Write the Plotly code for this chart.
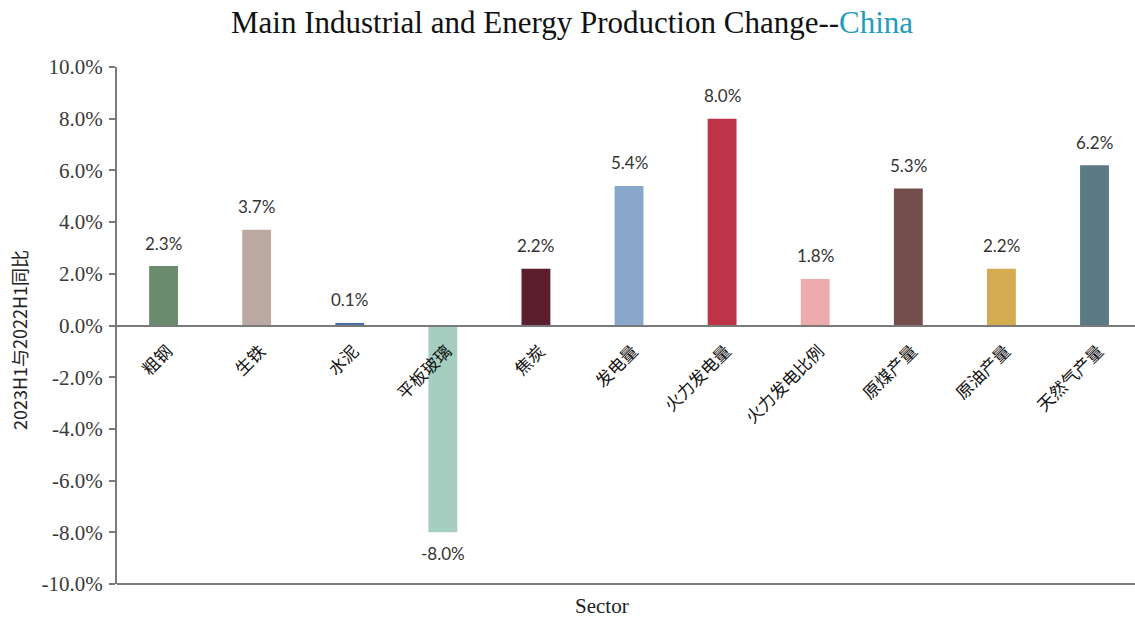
import plotly.graph_objects as go

# Sector year-over-year change, 2023H1 vs 2022H1 (percent)
sectors = ["粗钢", "生铁", "水泥", "平板玻璃", "焦炭", "发电量",
           "火力发电量", "火力发电比例", "原煤产量", "原油产量", "天然气产量"]
change_pct = [2.3, 3.7, 0.1, -8.0, 2.2, 5.4, 8.0, 1.8, 5.3, 2.2, 6.2]
bar_colors = ["#6b8b6f", "#bba9a1", "#4c6fa8", "#a6cec0", "#5a1e2c", "#88a7ca",
              "#bd3449", "#eeabab", "#744e4d", "#d5ab52", "#5c7a84"]
y_ticks = [-10, -8, -6, -4, -2, 0, 2, 4, 6, 8, 10]

W, H = 1135, 620
M_L, M_R, M_T, M_B = 117, 0, 67, 36
plot_w = W - M_L - M_R
plot_h = H - M_T - M_B

values = [v / 100 for v in change_pct]

fig = go.Figure(go.Bar(
    x=sectors,
    y=values,
    width=0.31,
    marker=dict(color=bar_colors, line=dict(width=0)),
    showlegend=False,
    hovertemplate="%{x}: %{y:.1%}<extra></extra>",
))

# Value labels above positive bars, below negative ones
value_labels = [
    dict(x=s, y=v, xref="x", yref="y", text=f"{p:.1f}%", showarrow=False,
         xanchor="center", yanchor="middle", yshift=23 if v >= 0 else -21,
         font=dict(family="Lato, Noto Sans, sans-serif", size=17, color="#333333"))
    for s, v, p in zip(sectors, values, change_pct)
]

# Bottom frame line of the plot area
fig.add_shape(type="line", xref="paper", yref="paper", x0=0, x1=1, y0=0, y1=0,
              line=dict(color="#7a7a7a", width=2))

fig.update_layout(
    width=W, height=H,
    margin=dict(l=M_L, r=M_R, t=M_T, b=M_B),
    paper_bgcolor="white", plot_bgcolor="white",
    title=dict(
        text="Main Industrial and Energy Production Change--"
             "<span style='color:#1f9cc0'>China</span>",
        x=0.504, xanchor="center", y=0.965, yanchor="middle",
        font=dict(family="Liberation Serif, Times New Roman, serif", size=31, color="#111111"),
    ),
    xaxis=dict(
        range=[-0.5, 10 + (W - 1094.5) / 93.1],
        anchor="free", position=0.5,
        showline=True, linecolor="#7a7a7a", linewidth=2,
        ticks="", tickangle=-45,
        ticklabelstandoff=8, ticklabelshift=4,
        tickfont=dict(family="Noto Sans CJK SC, sans-serif", size=17, color="#111111"),
        showgrid=False, zeroline=False,
    ),
    yaxis=dict(
        range=[-0.1, 0.1],
        tickvals=[t / 100 for t in y_ticks],
        ticktext=[f"{t:.1f}%" for t in y_ticks],
        tickfont=dict(family="Liberation Serif, Times New Roman, serif", size=21, color="#3a3a3a"),
        ticks="outside", ticklen=6, tickcolor="#7a7a7a", tickwidth=1.5,
        ticklabelstandoff=2,
        showline=True, linecolor="#7a7a7a", linewidth=2,
        showgrid=False, zeroline=False,
    ),
    annotations=value_labels + [
        dict(text="2023H1与2022H1同比", xref="paper", yref="paper",
             x=-(M_L - 19) / plot_w, y=(H - M_B - 340) / plot_h,
             xanchor="center", yanchor="middle",
             textangle=-90, showarrow=False,
             font=dict(family="Noto Sans CJK SC, sans-serif", size=18, color="#222222")),
        dict(text="Sector", xref="paper", yref="paper",
             x=(602 - M_L) / plot_w, y=-(606 - (H - M_B)) / plot_h,
             xanchor="center", yanchor="middle", showarrow=False,
             font=dict(family="Liberation Serif, Times New Roman, serif", size=21, color="#222222")),
    ],
)

fig.write_html("out.html")
